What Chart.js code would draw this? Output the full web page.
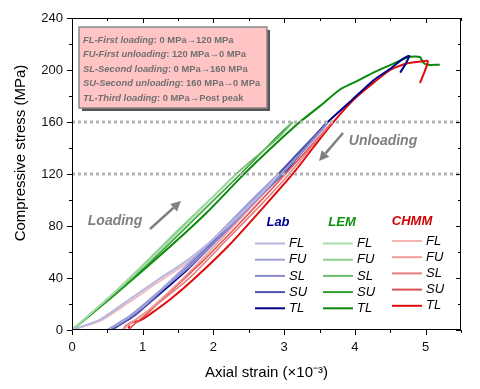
<!DOCTYPE html>
<html>
<head>
<meta charset="utf-8">
<script src="https://cdn.jsdelivr.net/npm/chart.js@4.4.0/dist/chart.umd.min.js"></script>
<style>
  html, body { margin: 0; padding: 0; background: #fff; }
</style>
</head>
<body>
<canvas id="stressChart" width="480" height="389"></canvas>
<script>
// strain (x10^-3), stress (MPa) pairs
const labFL = [[0,0],[0.4,8],[0.8,23],[1.2,38],[1.64,54],[2.0,70],[2.4,90],[2.8,112],[2.92,120]];
const labFU = [[2.92,120],[2.6,103],[2.2,81],[1.8,59],[1.4,38],[1.0,18],[0.7,6],[0.5,0]];
const labSL = [[0.5,0],[0.8,10],[1.2,28],[1.64,48],[2.1,72],[2.6,100],[3.0,122],[3.55,155],[3.62,160]];
const labSU = [[3.62,160],[3.3,142],[2.8,113],[2.3,85],[1.8,58],[1.3,32],[0.9,12],[0.55,0]];
const labTL = [[0.55,0],[0.85,10],[1.2,26],[1.64,47],[2.1,72],[2.6,100],[3.05,124],[3.56,157],[3.96,177],[4.26,192],[4.5,201],[4.69,209],[4.77,210.8],[4.72,205],[4.64,198]];

const lemFL = [[0,0],[0.5,24],[1.1,54],[1.7,86],[2.2,114],[2.32,120]];
const lemFU = [[2.32,120],[2.0,103],[1.5,77],[1.0,50],[0.5,24],[0,0]];
const lemSL = [[0,0],[0.5,24],[1.1,54],[1.8,92],[2.38,123],[2.92,148],[3.12,160]];
const lemSU = [[3.12,160],[2.85,146],[2.4,121],[1.8,89],[1.2,57],[0.6,27],[0,0]];
const lemTL = [[0,0],[0.6,27],[1.28,59],[1.9,90],[2.38,117],[2.64,131],[3.2,159],[3.5,172],[3.79,185],[4.05,192],[4.26,198],[4.59,206],[4.76,210],[4.92,210],[4.96,206],[5.02,204],[5.2,204]];

const chmmFL = [[0,0],[0.4,7],[0.8,21],[1.2,36],[1.64,52],[2.0,68],[2.4,89],[2.8,110],[2.98,120]];
const chmmFU = [[2.98,120],[2.7,104],[2.3,81],[1.9,58],[1.5,36],[1.1,16],[0.85,6],[0.72,0]];
const chmmSL = [[0.72,0],[0.75,3],[0.9,8],[1.3,24],[1.7,42],[2.2,70],[2.7,98],[3.1,122],[3.6,155],[3.68,160]];
const chmmSU = [[3.68,160],[3.35,140],[2.85,110],[2.35,81],[1.85,53],[1.4,30],[1.05,12],[0.85,3],[0.8,0]];
const chmmTL = [[0.82,0],[0.8,4],[0.85,6],[0.95,7],[1.1,12],[1.4,24],[1.7,38],[2.2,64],[2.7,94],[3.15,122],[3.62,155],[3.98,177],[4.26,190],[4.5,200],[4.73,205],[4.99,207],[5.03,207],[5.02,204],[4.98,198],[4.92,190]];

const stages = ['FL', 'FU', 'SL', 'SU', 'TL'];
const labColors = ['#b8b8e0', '#a0a0d8', '#8c8ccc', '#5050b0', '#000088'];
const lemColors = ['#a8dca8', '#8fd08f', '#6cbc6c', '#2e9e2e', '#0a8a0a'];
const chmmColors = ['#f4b4b4', '#f09c9c', '#e87c7c', '#e05252', '#e00c0c'];
const levelLines = [120, 160];
const xTicks = [0, 1, 2, 3, 4, 5];
const yTicks = [0, 40, 80, 120, 160, 200, 240];

const infoLines = [
    ['FL-First loading', ': 0 MPa\u2192120 MPa'],
    ['FU-First unloading', ': 120 MPa\u21920 MPa'],
    ['SL-Second loading', ': 0 MPa\u2192160 MPa'],
    ['SU-Second unloading', ': 160 MPa\u21920 MPa'],
    ['TL-Third loading', ': 0 MPa\u2192Post peak']
];

const toXY = pts => pts.map(p => ({ x: p[0], y: p[1] }));

function series(pts, color, width) {
    return {
        data: toXY(pts),
        borderColor: color,
        borderWidth: width,
        showLine: true,
        pointRadius: 0,
        tension: 0.2,
        fill: false
    };
}

const datasets = [];
levelLines.forEach(v => {
    datasets.push({
        data: [{ x: 0, y: v }, { x: 5.5, y: v }],
        borderColor: '#b4b4b4',
        borderWidth: 3,
        borderDash: [3, 3],
        showLine: true,
        pointRadius: 0
    });
});
[labFL, labFU, labSL, labSU, labTL].forEach((s, i) => datasets.push(series(s, labColors[i], i === 4 ? 2 : 2.2)));
[chmmFL, chmmFU, chmmSL, chmmSU, chmmTL].forEach((s, i) => datasets.push(series(s, chmmColors[i], i === 4 ? 2 : 1.6)));
[lemFL, lemFU, lemSL, lemSU, lemTL].forEach((s, i) => datasets.push(series(s, lemColors[i], i === 4 ? 2 : 1.6)));

const FONT = '"Liberation Sans", Arial, sans-serif';

function arrow(ctx, x1, y1, x2, y2) {
    const a = Math.atan2(y2 - y1, x2 - x1);
    const hl = 10, hw = 5;
    const bx = x2 - hl * Math.cos(a), by = y2 - hl * Math.sin(a);
    ctx.strokeStyle = '#808080';
    ctx.fillStyle = '#808080';
    ctx.lineWidth = 2.5;
    ctx.beginPath();
    ctx.moveTo(x1, y1);
    ctx.lineTo(bx, by);
    ctx.stroke();
    ctx.beginPath();
    ctx.moveTo(x2, y2);
    ctx.lineTo(bx + hw * Math.sin(a), by - hw * Math.cos(a));
    ctx.lineTo(bx - hw * Math.sin(a), by + hw * Math.cos(a));
    ctx.closePath();
    ctx.fill();
}

const decorations = {
    id: 'decorations',
    afterDatasetsDraw(chart) {
        const ctx = chart.ctx;
        const { left, right, top, bottom } = chart.chartArea;
        const xs = chart.scales.x, ys = chart.scales.y;
        ctx.save();

        // frame
        ctx.strokeStyle = '#000';
        ctx.lineWidth = 1;
        ctx.strokeRect(left + 0.5, top + 0.5, right - left - 1, bottom - top - 1);

        // ticks: outward on left/bottom, inward on top/right
        ctx.beginPath();
        for (let v = 0; v <= 5.5001; v += 0.5) {
            const px = Math.round(xs.getPixelForValue(v)) + 0.5;
            const len = Math.abs(v - Math.round(v)) < 1e-6 ? 5 : 3;
            ctx.moveTo(px, bottom); ctx.lineTo(px, bottom + len);
            ctx.moveTo(px, top); ctx.lineTo(px, top + len);
        }
        for (let v = 0; v <= 240; v += 20) {
            const py = Math.round(ys.getPixelForValue(v)) + 0.5;
            const len = v % 40 === 0 ? 5 : 3;
            ctx.moveTo(left, py); ctx.lineTo(left - len, py);
            ctx.moveTo(right, py); ctx.lineTo(right - len, py);
        }
        ctx.stroke();

        // axis titles
        ctx.fillStyle = '#000';
        ctx.font = '15px ' + FONT;
        ctx.textAlign = 'center';
        ctx.textBaseline = 'middle';
        ctx.fillText('Axial strain (\u00d710\u207b\u00b3)', (left + right) / 2, 373);
        ctx.save();
        ctx.translate(21, 153);
        ctx.rotate(-Math.PI / 2);
        ctx.fillText('Compressive stress (MPa)', 0, 0);
        ctx.restore();

        // info box
        ctx.fillStyle = '#555';
        ctx.fillRect(82, 30, 188, 81);
        ctx.fillStyle = '#ffc4c4';
        ctx.fillRect(79, 27, 188, 81);
        ctx.strokeStyle = '#8a8a8a';
        ctx.lineWidth = 1.5;
        ctx.strokeRect(79, 27, 188, 81);
        ctx.textAlign = 'left';
        ctx.textBaseline = 'middle';
        infoLines.forEach((ln, i) => {
            const y = 40 + i * 14.6;
            ctx.fillStyle = '#707070';
            ctx.font = 'italic bold 9.4px ' + FONT;
            ctx.fillText(ln[0], 83, y);
            const w = ctx.measureText(ln[0]).width;
            ctx.font = 'bold 9.4px ' + FONT;
            ctx.fillText(ln[1], 83 + w, y);
        });

        // annotations
        ctx.fillStyle = '#808080';
        ctx.font = 'italic bold 14px ' + FONT;
        ctx.textAlign = 'center';
        ctx.fillText('Loading', 115, 221);
        ctx.fillText('Unloading', 383, 141);
        arrow(ctx, 150, 229, 181, 201);
        arrow(ctx, 343, 133, 319, 161);

        // legend
        const groups = [
            { name: 'Lab', color: '#000090', colors: labColors, x: 255, tx: 278, ty: 222, y0: 243.5 },
            { name: 'LEM', color: '#109010', colors: lemColors, x: 323, tx: 342, ty: 222, y0: 243.5 },
            { name: 'CHMM', color: '#d00000', colors: chmmColors, x: 392, tx: 412, ty: 221, y0: 241 }
        ];
        groups.forEach(g => {
            ctx.fillStyle = g.color;
            ctx.font = 'italic bold 13px ' + FONT;
            ctx.textAlign = 'center';
            ctx.fillText(g.name, g.tx, g.ty);
            stages.forEach((st, i) => {
                const y = g.y0 + i * 16.2;
                ctx.strokeStyle = g.colors[i];
                ctx.lineWidth = 2;
                ctx.beginPath();
                ctx.moveTo(g.x, y);
                ctx.lineTo(g.x + 30, y);
                ctx.stroke();
                ctx.fillStyle = '#000';
                ctx.font = 'italic 13px ' + FONT;
                ctx.textAlign = 'left';
                ctx.fillText(st, g.x + 34, y);
            });
        });
        ctx.restore();
    }
};

new Chart(document.getElementById('stressChart').getContext('2d'), {
    type: 'scatter',
    data: { datasets },
    options: {
        responsive: false,
        animation: false,
        layout: { padding: { top: 18, right: 19, left: 0, bottom: 0 } },
        plugins: {
            legend: { display: false },
            tooltip: { enabled: false }
        },
        scales: {
            x: {
                type: 'linear',
                min: 0,
                max: 5.5,
                afterFit: s => { s.height = 59; },
                afterBuildTicks: s => { s.ticks = xTicks.map(v => ({ value: v })); },
                grid: { display: false, drawTicks: false },
                border: { display: false },
                ticks: { padding: 10, color: '#111', font: { size: 13, family: FONT } }
            },
            y: {
                type: 'linear',
                min: 0,
                max: 240,
                afterFit: s => { s.width = 72; },
                afterBuildTicks: s => { s.ticks = yTicks.map(v => ({ value: v })); },
                grid: { display: false, drawTicks: false },
                border: { display: false },
                ticks: { padding: 9, color: '#111', font: { size: 13, family: FONT } }
            }
        }
    },
    plugins: [decorations]
});
</script>
</body>
</html>
